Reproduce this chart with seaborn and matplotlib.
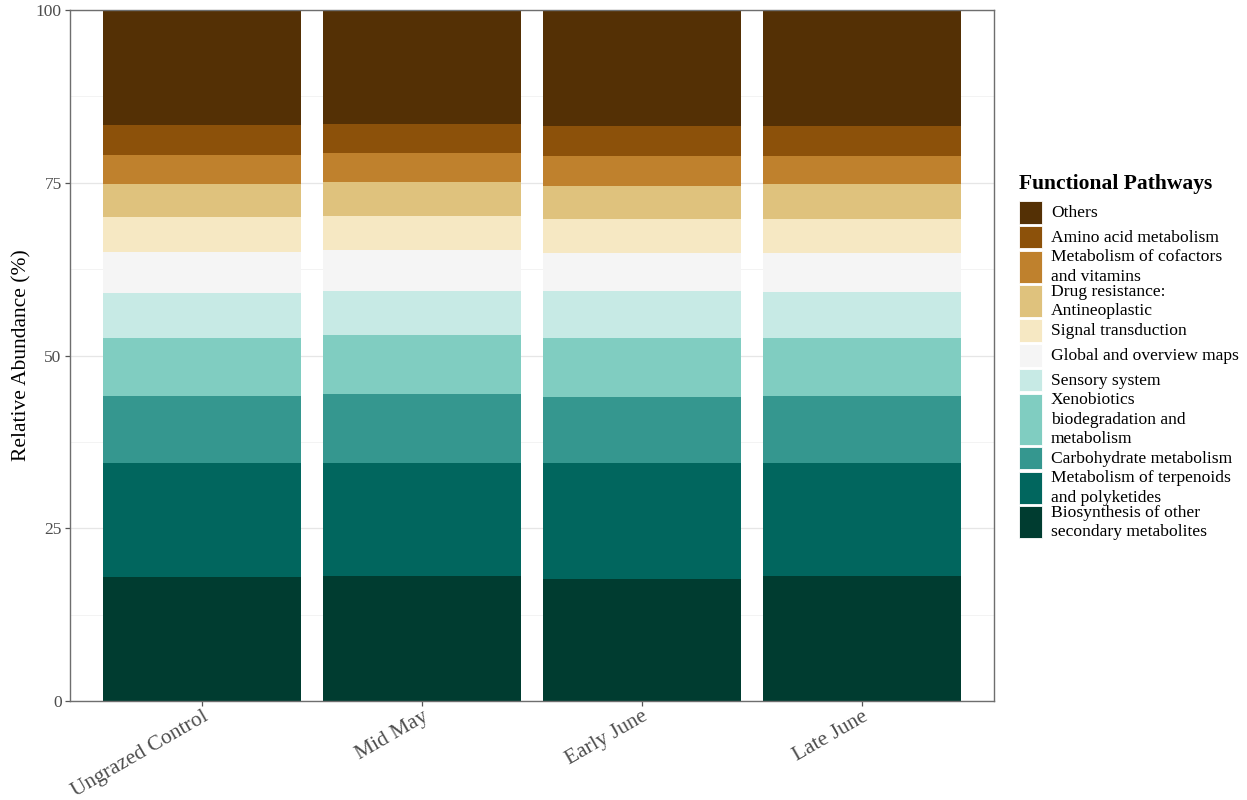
import numpy as np
import matplotlib
matplotlib.use("Agg")
import matplotlib.pyplot as plt
from matplotlib.patches import Rectangle
from matplotlib.ticker import MultipleLocator
import seaborn as sns

# ---- data: relative abundance (%) of functional pathways per grazing treatment ----
groups = ["Ungrazed Control", "Mid May", "Early June", "Late June"]

biosynthesis_other = [17.9, 18.1, 17.7, 18.1]
terpenoids_polyketides = [16.5, 16.4, 16.7, 16.3]
carbohydrate = [9.7, 10.0, 9.6, 9.7]
xenobiotics = [8.4, 8.5, 8.6, 8.4]
sensory = [6.5, 6.3, 6.8, 6.7]
global_maps = [6.0, 6.0, 5.4, 5.6]
signal_transduction = [5.0, 4.9, 5.0, 5.0]
drug_resistance = [4.8, 4.9, 4.8, 5.0]
cofactors_vitamins = [4.2, 4.2, 4.3, 4.1]
amino_acid = [4.3, 4.2, 4.3, 4.3]
others = [16.7, 16.5, 16.8, 16.8]

# bottom-to-top stacking order
pathway_labels = [
    "Biosynthesis of other\nsecondary metabolites",
    "Metabolism of terpenoids\nand polyketides",
    "Carbohydrate metabolism",
    "Xenobiotics\nbiodegradation and\nmetabolism",
    "Sensory system",
    "Global and overview maps",
    "Signal transduction",
    "Drug resistance:\nAntineoplastic",
    "Metabolism of cofactors\nand vitamins",
    "Amino acid metabolism",
    "Others",
]
pathway_values = [
    biosynthesis_other, terpenoids_polyketides, carbohydrate, xenobiotics,
    sensory, global_maps, signal_transduction, drug_resistance,
    cofactors_vitamins, amino_acid, others,
]
# ColorBrewer BrBG (11 classes), dark teal at the bottom to dark brown on top
palette = ["#003c30", "#01665e", "#35978f", "#80cdc1", "#c7eae5", "#f5f5f5",
           "#f6e8c3", "#dfc27d", "#bf812d", "#8c510a", "#543005"]

# ---- styling ----
sns.set_theme(style="white")
plt.rcParams["font.family"] = ["Liberation Serif", "DejaVu Serif"]
plt.rcParams["axes.unicode_minus"] = False

W, H = 1247, 800
fig = plt.figure(figsize=(W / 100, H / 100), dpi=100)
ax = fig.add_axes([70 / W, (H - 701) / H, 924 / W, 691 / H])

# stacked bars: draw cumulative totals from the top layer downwards
cum = np.cumsum(np.array(pathway_values), axis=0)
for i in range(len(pathway_labels) - 1, -1, -1):
    sns.barplot(x=groups, y=cum[i], color=palette[i], saturation=1,
                width=0.9, errorbar=None, ax=ax, zorder=2,
                linewidth=0, edgecolor="none")

ax.set_xlim(-0.6, len(groups) - 0.4)
ax.set_ylim(0, 100)
ax.yaxis.set_major_locator(MultipleLocator(25))
ax.yaxis.set_minor_locator(MultipleLocator(12.5))
ax.grid(axis="y", which="major", color="#e6e6e6", lw=0.9, zorder=0)
ax.grid(axis="y", which="minor", color="#f3f3f3", lw=0.7, zorder=0)
ax.grid(axis="x", visible=False)
ax.set_axisbelow(True)

for s in ax.spines.values():
    s.set_visible(True)
    s.set_color("#6e6e6e")
    s.set_linewidth(1.0)

ax.tick_params(axis="both", which="major", length=3.5, width=0.9,
               color="#555555", labelcolor="#4d4d4d", direction="out")
ax.tick_params(axis="both", which="minor", length=0)
ax.tick_params(axis="y", labelsize=12.5, pad=2.5)
ax.tick_params(axis="x", labelsize=15.5, pad=1)
ax.yaxis.set_ticks_position("left")
ax.xaxis.set_ticks_position("bottom")
for lab in ax.get_xticklabels():
    lab.set_rotation(30)
    lab.set_ha("right")
    lab.set_va("top")
    lab.set_rotation_mode("anchor")

ax.set_xlabel("")
ax.set_ylabel("Relative Abundance (%)", fontsize=15.5, color="black")
ax.yaxis.set_label_coords(-0.042, 0.5)

# ---- legend: keys stacked top to bottom with heights that follow the label lines ----
leg = fig.add_axes([0, 0, 1, 1], facecolor="none")
leg.set_xlim(0, W)
leg.set_ylim(H, 0)
leg.axis("off")
leg.text(1019, 184, "Functional Pathways", fontsize=15.5, fontweight="bold",
         ha="left", va="center", color="black")
heights = {1: 22.5, 2: 32.0, 3: 51.0}
y = 201.0
for i in range(len(pathway_labels) - 1, -1, -1):
    label = pathway_labels[i]
    h = heights[label.count("\n") + 1]
    leg.add_patch(Rectangle((1019, y), 22.5, h, facecolor=palette[i],
                            edgecolor="white", lw=0.6))
    leg.text(1051, y + h / 2 + 0.5, label, fontsize=12.6, ha="left", va="center",
             linespacing=1.3, color="black")
    y += h + 2.3

fig.savefig("out.png", dpi=100)
